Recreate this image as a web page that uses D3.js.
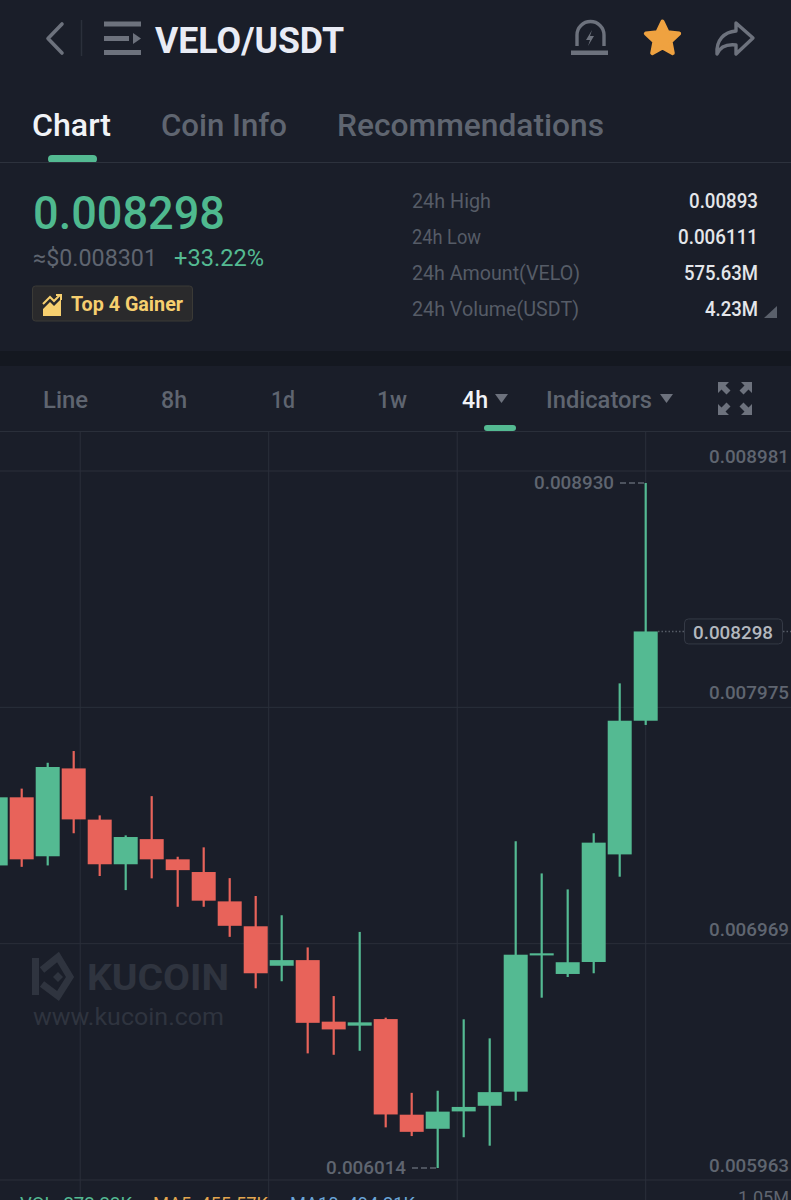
<!DOCTYPE html>
<html>
<head>
<meta charset="utf-8">
<script src="https://cdn.jsdelivr.net/npm/d3@7"></script>
<style>
    html, body { margin: 0; padding: 0; background: #1a1e29; overflow: hidden; }
    svg { display: block; }
    text { font-family: Roboto, sans-serif; }
</style>
</head>
<body>
<div id="root"></div>
<script>
// candles, oldest first
const opens  = [0.007302, 0.007592, 0.007341, 0.007715, 0.007497, 0.007307, 0.007414, 0.007328, 0.007274, 0.007149, 0.007043, 0.006875, 0.006899, 0.006637, 0.006620, 0.006648, 0.006241, 0.006181, 0.006255, 0.006279, 0.006339, 0.006919, 0.006840, 0.006891, 0.007349, 0.007918];
const closes = [0.007592, 0.007328, 0.007721, 0.007498, 0.007307, 0.007423, 0.007328, 0.007282, 0.007152, 0.007045, 0.006843, 0.006899, 0.006632, 0.006604, 0.006634, 0.006242, 0.006168, 0.006254, 0.006274, 0.006337, 0.006922, 0.006928, 0.006890, 0.007399, 0.007918, 0.008298];
const highs  = [0.007592, 0.007629, 0.007739, 0.007789, 0.007515, 0.007430, 0.007597, 0.007339, 0.007379, 0.007248, 0.007172, 0.007090, 0.006953, 0.006746, 0.007019, 0.006654, 0.006334, 0.006343, 0.006647, 0.006566, 0.007405, 0.007268, 0.007200, 0.007439, 0.008077, 0.008930];
const lows   = [0.007302, 0.007296, 0.007302, 0.007439, 0.007257, 0.007197, 0.007247, 0.007126, 0.007126, 0.006998, 0.006779, 0.006809, 0.006502, 0.006496, 0.006513, 0.006187, 0.006150, 0.006014, 0.006145, 0.006109, 0.006300, 0.006739, 0.006827, 0.006843, 0.007254, 0.007900];

const priceTicks = [0.008981, 0.007975, 0.006969, 0.005963];
const gridSlots = [3.25, 10.5, 17.75, 25];
const lastPrice = 0.008298;
const highPrice = 0.008930;
const lowPrice = 0.006014;

const tabs = ['Chart', 'Coin Info', 'Recommendations'];
const statNames = ['24h High', '24h Low', '24h Amount(VELO)', '24h Volume(USDT)'];
const statValues = ['0.00893', '0.006111', '575.63M', '4.23M'];
const periods = ['Line', '8h', '1d', '1w', '4h', 'Indicators'];

const GREEN = '#54ba92';
const RED = '#e8635a';
const ICON = '#6d727d';
const MUTED = '#5f6570';

const width = 791;
const height = 1200;

const svg = d3.select('#root')
    .append('svg')
    .attr('width', width)
    .attr('height', height);

const x = d3.scaleLinear().domain([0, 25]).range([-4.3, 645.7]);
const y = d3.scaleLinear().domain([0.005963, 0.008981]).range([1180, 471]);

// text helper, len squeezes the text to the measured width
function label(t, px, py, size, color, len, weight) {
    return svg.append('text')
        .attr('x', px)
        .attr('y', py)
        .attr('font-size', size)
        .attr('font-weight', weight || 400)
        .attr('fill', color)
        .attr('textLength', len)
        .attr('lengthAdjust', 'spacingAndGlyphs')
        .text(t);
}

function hline(x1, x2, py, color) {
    svg.append('line').attr('x1', x1).attr('x2', x2).attr('y1', py).attr('y2', py)
        .attr('stroke', color).attr('stroke-width', 1);
}

svg.append('rect').attr('width', width).attr('height', height).attr('fill', '#1a1e29');

// ---- header ----
svg.append('path').attr('d', 'M62,24 L48,38.5 L62,53')
    .attr('fill', 'none').attr('stroke', ICON).attr('stroke-width', 3.6).attr('stroke-linecap', 'round').attr('stroke-linejoin', 'round');
svg.append('line').attr('x1', 81.5).attr('x2', 81.5).attr('y1', 20).attr('y2', 56).attr('stroke', '#2b303b').attr('stroke-width', 1.5);
svg.append('rect').attr('x', 104).attr('y', 21.5).attr('width', 37).attr('height', 5).attr('fill', ICON);
svg.append('rect').attr('x', 104).attr('y', 36).attr('width', 25).attr('height', 5).attr('fill', ICON);
svg.append('path').attr('d', 'M133,33 L141,38.5 L133,44 Z').attr('fill', ICON);
svg.append('rect').attr('x', 104).attr('y', 50).attr('width', 37).attr('height', 5).attr('fill', ICON);

label('VELO/USDT', 155, 53, 36, '#e9ecf5', 189, 700);

// alarm icon
svg.append('path').attr('d', 'M577,46 L577,35 A13.5,13.5 0 0 1 604,35 L604,46')
    .attr('fill', 'none').attr('stroke', ICON).attr('stroke-width', 3.4);
svg.append('rect').attr('x', 571).attr('y', 50.5).attr('width', 37).attr('height', 4.5).attr('fill', ICON);
svg.append('path').attr('d', 'M592,30 L586,40 L590,40 L588,46 L594,36 L590,36 Z').attr('fill', ICON);

// star
const starPts = d3.range(10).map(i => {
    const r = i % 2 ? 8.5 : 17.5;
    const a = -Math.PI / 2 + i * Math.PI / 5;
    return [662.5 + r * Math.cos(a), 39 + r * Math.sin(a)];
});
svg.append('polygon').attr('points', starPts.join(' '))
    .attr('fill', '#efa240').attr('stroke', '#efa240').attr('stroke-width', 4).attr('stroke-linejoin', 'round');

// share arrow
svg.append('path').attr('d', 'M736,23 L753,38 L736,54 L736,45 C727,44 720,47 717,54 C716,40 724,32 736,31 Z')
    .attr('fill', 'none').attr('stroke', ICON).attr('stroke-width', 3.4).attr('stroke-linejoin', 'round');

// ---- tabs ----
const tabX = [32, 161, 337];
const tabLen = [79, 126, 267];
tabs.forEach((t, i) => label(t, tabX[i], 136, 32, i === 0 ? '#f1f3f7' : MUTED, tabLen[i], 500));
svg.append('rect').attr('x', 48).attr('y', 155).attr('width', 49).attr('height', 8).attr('rx', 4).attr('fill', GREEN);
hline(0, width, 162.5, '#2d323d');

// ---- price block ----
label('0.008298', 33, 229, 46, '#4fb98f', 192, 500);
label('≈$0.008301', 33, 266, 23, MUTED, 124);
label('+33.22%', 174, 266, 23, GREEN, 90);

svg.append('rect').attr('x', 32.5).attr('y', 286).attr('width', 160).attr('height', 35).attr('rx', 3)
    .attr('fill', '#2a2a2c').attr('stroke', '#3b3a36');
svg.append('path').attr('d', 'M43,316 L43,309 L50,302 L54,306 L61,299 L61,316 Z').attr('fill', '#f6cf6f');
svg.append('path').attr('d', 'M43,304 L50,297 L54,301 L60,295 M56,295 L61,295 L61,300')
    .attr('fill', 'none').attr('stroke', '#f6cf6f').attr('stroke-width', 2);
label('Top 4 Gainer', 71, 311, 20, '#f6cf6f', 112, 700);

// ---- 24h stats ----
const statY = [208, 244, 280, 316];
const statLen = [79, 69, 168, 167];
const valLen = [69, 80, 74, 53];
statNames.forEach((t, i) => label(t, 412, statY[i], 20, '#565c67', statLen[i]));
statValues.forEach((t, i) => label(t, 758 - valLen[i], statY[i], 20, '#e4e6ea', valLen[i], 500));
svg.append('path').attr('d', 'M777,306 L777,318 L764,318 Z').attr('fill', '#5a606b');

// band between the blocks
svg.append('rect').attr('x', 0).attr('y', 351).attr('width', width).attr('height', 15).attr('fill', '#141820');

// ---- period bar ----
const periodX = [43, 161, 271, 377, 462, 546];
const periodLen = [45, 26, 24, 30, 26, 106];
periods.forEach((t, i) => label(t, periodX[i], 408, 24, i === 4 ? '#f1f3f7' : MUTED, periodLen[i], 500));
svg.append('path').attr('d', 'M495,394 L508,394 L501.5,403 Z').attr('fill', ICON);
svg.append('path').attr('d', 'M660,394 L673,394 L666.5,403 Z').attr('fill', ICON);
svg.append('rect').attr('x', 484).attr('y', 425).attr('width', 32).attr('height', 6).attr('rx', 3).attr('fill', GREEN);

// full screen icon
[[718, 382, 1, 1], [752, 382, -1, 1], [718, 415, 1, -1], [752, 415, -1, -1]].forEach(c => {
    const [cx, cy, sx, sy] = c;
    svg.append('path')
        .attr('d', `M${cx},${cy} L${cx + 11 * sx},${cy} L${cx + 7.5 * sx},${cy + 3.5 * sy} L${cx + 12.5 * sx},${cy + 8.5 * sy} L${cx + 8.5 * sx},${cy + 12.5 * sy} L${cx + 3.5 * sx},${cy + 7.5 * sy} L${cx},${cy + 11 * sy} Z`)
        .attr('fill', ICON);
});

hline(0, width, 431.5, '#2a2f3a');

// ---- grid ----
const grid = svg.append('g').attr('stroke', '#2a2f3a').attr('stroke-width', 1);
grid.selectAll('line.v').data(gridSlots).join('line').attr('class', 'v')
    .attr('x1', d => x(d)).attr('x2', d => x(d)).attr('y1', 432).attr('y2', height);
grid.selectAll('line.h').data(priceTicks).join('line').attr('class', 'h')
    .attr('x1', 0).attr('x2', width).attr('y1', d => y(d)).attr('y2', d => y(d));

// ---- watermark ----
const markColor = '#2f343f';
svg.append('path').attr('d', 'M35.5,958 L35.5,995').attr('stroke', markColor).attr('stroke-width', 7).attr('fill', 'none');
svg.append('path').attr('d', 'M42,970 L58,957 L70,977 L58,996 L42,984')
    .attr('stroke', markColor).attr('stroke-width', 7).attr('fill', 'none');
svg.append('path').attr('d', 'M58,972 L63,977 L58,982 L53,977 Z').attr('fill', markColor);
label('KUCOIN', 87, 990, 37, markColor, 142, 700);
label('www.kucoin.com', 33, 1025, 23, markColor, 191);

// ---- candles ----
const idx = d3.range(opens.length);
const colorOf = i => closes[i] >= opens[i] ? GREEN : RED;

const candle = svg.append('g').selectAll('g').data(idx).join('g');
candle.append('line')
    .attr('x1', i => x(i)).attr('x2', i => x(i))
    .attr('y1', i => y(highs[i])).attr('y2', i => y(lows[i]))
    .attr('stroke', colorOf).attr('stroke-width', 2.2);
candle.append('rect')
    .attr('x', i => x(i) - 12)
    .attr('width', 24)
    .attr('y', i => y(Math.max(opens[i], closes[i])))
    .attr('height', i => Math.abs(y(opens[i]) - y(closes[i])))
    .attr('fill', colorOf);

// ---- price axis ----
const axis = svg.append('g')
    .attr('transform', 'translate(789,0)')
    .call(d3.axisLeft(y).tickValues(priceTicks).tickSize(0).tickPadding(0).tickFormat(d3.format('.6f')));
axis.select('.domain').remove();
axis.selectAll('text')
    .attr('y', -8.5)
    .attr('dy', 0)
    .attr('font-size', 19)
    .attr('font-weight', 500)
    .attr('font-family', 'Roboto, sans-serif')
    .attr('fill', MUTED)
    .attr('textLength', 80)
    .attr('lengthAdjust', 'spacingAndGlyphs');

// ---- last / high / low markers ----
const fmt = d3.format('.6f');
function dotted(x1, x2, py, dash, color) {
    svg.append('line').attr('x1', x1).attr('x2', x2).attr('y1', py).attr('y2', py)
        .attr('stroke', color).attr('stroke-width', 1.5).attr('stroke-dasharray', dash);
}
dotted(658, 684, y(lastPrice), '1.5 2', '#565c67');
dotted(783, width, y(lastPrice), '1.5 2', '#565c67');
svg.append('rect').attr('x', 684.5).attr('y', y(lastPrice) - 12.5).attr('width', 98).attr('height', 25).attr('rx', 4)
    .attr('fill', '#1c202b').attr('stroke', '#343945');
label(fmt(lastPrice), 693, y(lastPrice) + 7.5, 19, '#b4b8bf', 80, 500);

label(fmt(highPrice), 534, y(highPrice) + 6, 19, MUTED, 80, 500);
dotted(620, 645, y(highPrice), '6 3', MUTED);
label(fmt(lowPrice), 326, y(lowPrice) + 6, 19, MUTED, 80, 500);
dotted(412, 437, y(lowPrice), '6 3', MUTED);

// ---- volume pane header, cut off by the screenshot as in the reference ----
label('VOL: 272.23K', 20, 1210, 19, GREEN, 112);
label('MA5: 455.57K', 153, 1210, 19, '#e3a64f', 115);
label('MA10: 494.21K', 290, 1210, 19, '#6aa5d8', 125);
label('1.05M', 738, 1204, 19, MUTED, 51);
</script>
</body>
</html>
